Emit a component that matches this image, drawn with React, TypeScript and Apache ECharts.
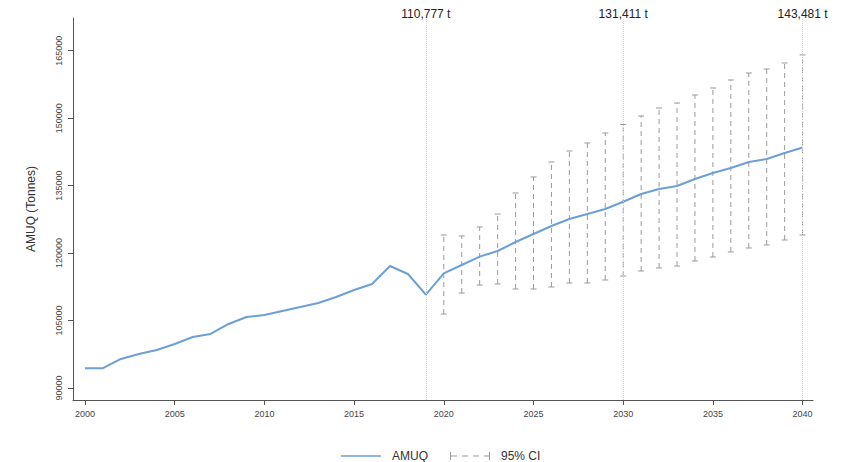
import React, { useEffect, useRef } from "react";
import * as echarts from "echarts";

const years: number[] = [
  2000, 2001, 2002, 2003, 2004, 2005, 2006, 2007, 2008, 2009, 2010,
  2011, 2012, 2013, 2014, 2015, 2016, 2017, 2018, 2019, 2020,
  2021, 2022, 2023, 2024, 2025, 2026, 2027, 2028, 2029, 2030,
  2031, 2032, 2033, 2034, 2035, 2036, 2037, 2038, 2039, 2040,
];
const amuq: number[] = [
  94400, 94400, 96450, 97560, 98450, 99780, 101340, 102010, 104230, 105790, 106230,
  107120, 108010, 108900, 110230, 111790, 113120, 117130, 115350, 110777, 115500,
  117350, 119200, 120460, 122460, 124240, 126020, 127580, 128690, 129800, 131411,
  133140, 134250, 134920, 136470, 137800, 138920, 140250, 140920, 142250, 143481,
];
const ciYears: number[] = [
  2020, 2021, 2022, 2023, 2024, 2025, 2026, 2027, 2028, 2029, 2030,
  2031, 2032, 2033, 2034, 2035, 2036, 2037, 2038, 2039, 2040,
];
const ciLower: number[] = [
  106450, 111120, 112900, 113130, 112010, 112010, 112460, 113350, 113350, 114010, 114900,
  116020, 116690, 117130, 118240, 119130, 120240, 121130, 121800, 122910, 124020,
];
const ciUpper: number[] = [
  124020, 123800, 125800, 128690, 133360, 136920, 140250, 142700, 144480, 146700, 148590,
  150480, 152260, 153370, 155150, 156710, 158490, 160040, 160930, 162270, 164050,
];
const xTicks: number[] = [2000, 2005, 2010, 2015, 2020, 2025, 2030, 2035, 2040];
const yTicks: number[] = [90000, 105000, 120000, 135000, 150000, 165000];
const annotYears: number[] = [2019, 2030, 2040];

const FONT = "'Liberation Sans', Arial, Helvetica, sans-serif";
const CI_COLOR = "#9a9a9a";
const LINE_COLOR = "#6c9fd7";

export default function App() {
  const ref = useRef<HTMLDivElement>(null);

  useEffect(() => {
    if (!ref.current) return;
    const chart = echarts.init(ref.current, undefined, { renderer: "svg" });

    const lineData = years.map((y, i) => [y, amuq[i]]);
    const ciData = ciYears.map((y, i) => [y, ciLower[i], ciUpper[i]]);

    const markData = annotYears.map((yr) => {
      const v = amuq[years.indexOf(yr)];
      return {
        xAxis: yr,
        label: { formatter: v.toLocaleString("en-US") + " t" },
      };
    });

    const lineIcon = "path://M0,3.2 L40,3.2 L40,4.8 L0,4.8 Z";
    const ciIcon =
      "path://M0,0 L1,0 L1,8 L0,8 Z M39,0 L40,0 L40,8 L39,8 Z " +
      "M1,3.5 L7,3.5 L7,4.5 L1,4.5 Z M12,3.5 L18,3.5 L18,4.5 L12,4.5 Z " +
      "M23,3.5 L29,3.5 L29,4.5 L23,4.5 Z M34,3.5 L39,3.5 L39,4.5 L34,4.5 Z";

    chart.setOption({
      animation: false,
      backgroundColor: "#ffffff",
      textStyle: { fontFamily: FONT },
      grid: { left: 73, right: 35, top: 18, bottom: 62, containLabel: false },
      legend: {
        left: 336,
        top: 445,
        itemGap: 22,
        itemWidth: 40,
        itemHeight: 8,
        textStyle: { fontSize: 12, color: "#333", fontFamily: FONT, padding: [0, 0, 0, 6] },
        data: [
          { name: "AMUQ", icon: lineIcon, itemStyle: { color: LINE_COLOR } },
          { name: "95% CI", icon: ciIcon, itemStyle: { color: CI_COLOR } },
        ],
      },
      xAxis: {
        type: "value",
        min: 1999.33,
        max: 2040.58,
        splitLine: { show: false },
        axisLine: { show: true, lineStyle: { color: "#555", width: 1 } },
        axisTick: { show: true, length: 5, customValues: xTicks, lineStyle: { color: "#555" } },
        axisLabel: {
          customValues: xTicks,
          fontSize: 9,
          color: "#444",
          margin: 9,
          fontFamily: FONT,
          formatter: (v: number) => String(Math.round(v)),
        },
      },
      yAxis: {
        type: "value",
        min: 87330,
        max: 172270,
        name: "AMUQ (Tonnes)",
        nameLocation: "middle",
        nameGap: 36,
        nameTextStyle: { fontSize: 12, color: "#333", fontFamily: FONT },
        splitLine: { show: false },
        axisLine: { show: true, lineStyle: { color: "#555", width: 1 } },
        axisTick: { show: true, length: 5, customValues: yTicks, lineStyle: { color: "#555" } },
        axisLabel: {
          customValues: yTicks,
          rotate: 90,
          fontSize: 9,
          color: "#444",
          margin: 10,
          fontFamily: FONT,
          formatter: (v: number) => String(Math.round(v)),
        },
      },
      series: [
        {
          name: "AMUQ",
          type: "line",
          data: lineData,
          showSymbol: false,
          symbol: "none",
          lineStyle: { color: LINE_COLOR, width: 2 },
          itemStyle: { color: LINE_COLOR },
          z: 3,
          markLine: {
            silent: true,
            symbol: "none",
            lineStyle: { type: "dotted", color: "#d0d0d0", width: 1 },
            label: {
              show: true,
              position: "end",
              distance: 2,
              offset: [0, 4],
              fontSize: 12,
              color: "#222",
              fontFamily: FONT,
            },
            data: markData,
          },
        },
        {
          name: "95% CI",
          type: "custom",
          data: ciData,
          encode: { x: 0, y: [1, 2] },
          itemStyle: { color: CI_COLOR },
          z: 2,
          renderItem: (params: any, api: any) => {
            const x = api.value(0);
            const lo = api.coord([x, api.value(1)]);
            const hi = api.coord([x, api.value(2)]);
            const cap = 3;
            const st = { stroke: CI_COLOR, lineWidth: 1 };
            return {
              type: "group",
              children: [
                {
                  type: "line",
                  shape: { x1: lo[0], y1: lo[1], x2: hi[0], y2: hi[1] },
                  style: { ...st, lineDash: [5, 4] },
                },
                {
                  type: "line",
                  shape: { x1: lo[0] - cap, y1: lo[1], x2: lo[0] + cap, y2: lo[1] },
                  style: st,
                },
                {
                  type: "line",
                  shape: { x1: hi[0] - cap, y1: hi[1], x2: hi[0] + cap, y2: hi[1] },
                  style: st,
                },
              ],
            };
          },
        },
      ],
    });

    return () => chart.dispose();
  }, []);

  return <div ref={ref} style={{ width: 848, height: 462, position: "absolute", left: 0, top: 0 }} />;
}
